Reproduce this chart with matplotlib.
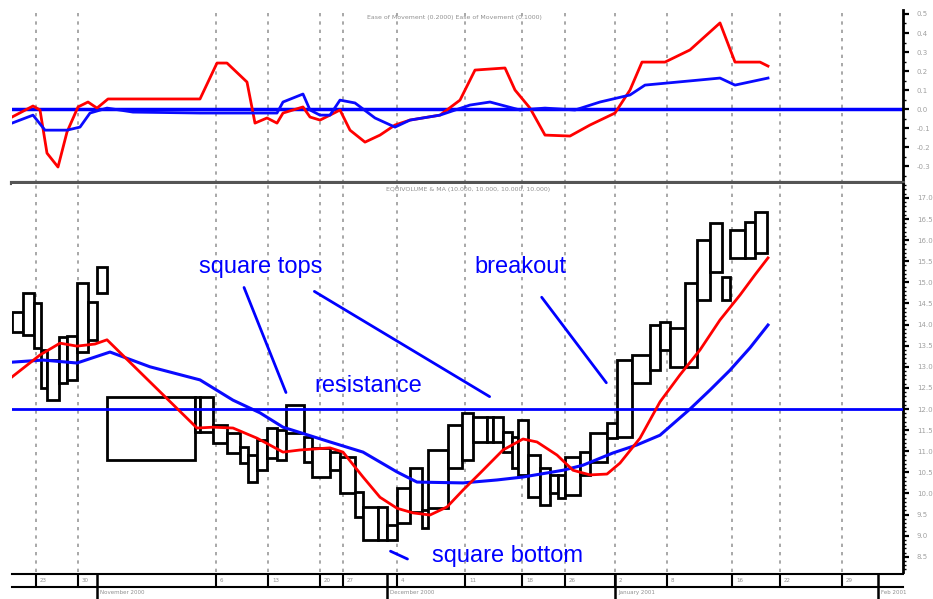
import numpy as np
import matplotlib.pyplot as plt
from matplotlib.ticker import MultipleLocator, FormatStrFormatter

# Equivolume boxes: width = volume, top = high, bottom = low
volume = [11, 11, 7, 6, 12, 8, 10, 11, 9, 10, 88, 5, 13, 14, 13, 8, 9, 10, 10, 9,
          18, 8, 18, 10, 15, 8, 15, 9, 10, 13, 12, 6, 20, 14, 11, 14, 6, 10, 9, 6,
          10, 12, 10, 8, 7, 15, 10, 17, 10, 15, 18, 10, 10, 15, 12, 13, 12, 8, 15, 10, 12]
high = [14.30, 14.75, 14.51, 13.40, 13.16, 13.71, 13.73, 14.99, 14.54, 15.36,
        12.28, 12.28, 12.28, 11.62, 11.43, 11.10, 10.91, 11.27, 11.55, 11.50,
        12.10, 11.34, 11.08, 10.98, 10.86, 10.03, 9.68, 9.68, 9.25, 10.13,
        10.60, 9.61, 11.03, 11.62, 11.90, 11.81, 11.81, 11.81, 11.45, 11.34,
        11.74, 10.91, 10.60, 10.44, 10.44, 10.86, 10.98, 11.43, 11.67, 13.16,
        13.28, 13.99, 14.06, 13.92, 14.99, 16.00, 16.41, 15.13, 16.24, 16.43, 16.67]
low = [13.82, 13.75, 13.45, 12.50, 12.21, 12.62, 12.69, 13.35, 13.64, 14.75,
       10.79, 11.45, 11.45, 11.19, 10.96, 10.72, 10.27, 10.55, 10.84, 10.79,
       11.43, 10.74, 10.39, 10.55, 10.01, 9.44, 8.90, 8.90, 8.90, 9.30,
       9.56, 9.18, 9.65, 10.60, 10.79, 11.22, 11.22, 11.22, 10.98, 10.60,
       10.44, 9.91, 9.72, 10.01, 9.89, 9.96, 10.44, 10.74, 11.31, 11.34,
       12.62, 12.92, 13.40, 13.00, 13.00, 14.58, 15.25, 14.58, 15.58, 15.58, 15.70]

# moving averages (x in cumulative volume)
ma_fast_x = [0, 28, 48, 65, 83, 95, 185, 201, 221, 245, 271, 288, 318, 331, 351, 368, 385,
             401, 418, 435, 451, 468, 491, 511, 525, 545, 561, 578, 595, 608, 628, 648,
             668, 688, 708, 728, 743, 756]
ma_fast = [12.76, 13.28, 13.56, 13.49, 13.54, 13.64, 11.55, 11.57, 11.55, 11.31, 10.98,
           11.03, 11.08, 10.98, 10.39, 9.91, 9.65, 9.54, 9.49, 9.68, 10.08, 10.48, 11.03,
           11.29, 11.22, 10.91, 10.55, 10.44, 10.46, 10.72, 11.31, 12.17, 12.81, 13.40,
           14.11, 14.70, 15.18, 15.58]
ma_slow_x = [0, 31, 65, 98, 138, 188, 221, 248, 271, 318, 351, 385, 405, 451, 485, 511,
             551, 571, 601, 625, 648, 678, 698, 718, 738, 756]
ma_slow = [13.11, 13.16, 13.09, 13.35, 13.00, 12.69, 12.21, 11.91, 11.57, 11.22, 10.98,
           10.51, 10.27, 10.25, 10.32, 10.39, 10.55, 10.67, 10.96, 11.15, 11.38, 12.00,
           12.45, 12.92, 13.45, 13.99]
resistance = 12.0

# Ease of movement indicators
eom_fast_x = [0, 21, 28, 35, 46, 55, 66, 76, 85, 96, 188, 205, 215, 235, 243, 255, 265,
              271, 291, 298, 308, 318, 328, 338, 353, 368, 383, 398, 428, 448, 463, 493,
              503, 518, 533, 558, 578, 603, 618, 630, 653, 678, 708, 723, 748, 756]
eom_fast = [-0.042, 0.016, -0.005, -0.232, -0.305, -0.121, 0.011, 0.037, 0.005, 0.053,
            0.053, 0.242, 0.242, 0.142, -0.074, -0.047, -0.074, -0.021, 0.011, -0.042,
            -0.058, -0.032, -0.005, -0.111, -0.174, -0.137, -0.084, -0.058, -0.032, 0.047,
            0.205, 0.216, 0.100, 0.005, -0.137, -0.142, -0.084, -0.021, 0.100, 0.247,
            0.247, 0.311, 0.453, 0.247, 0.247, 0.226]
eom_slow_x = [0, 21, 33, 55, 68, 78, 95, 121, 188, 238, 265, 271, 291, 298, 308, 318, 328,
              343, 363, 383, 398, 428, 458, 478, 508, 533, 563, 588, 618, 633, 688, 708,
              723, 756]
eom_slow = [-0.074, -0.032, -0.111, -0.111, -0.095, -0.021, 0.005, -0.016, -0.021, -0.021,
            -0.021, 0.037, 0.079, -0.005, -0.032, -0.032, 0.047, 0.032, -0.047, -0.095,
            -0.058, -0.032, 0.021, 0.037, -0.005, 0.005, -0.005, 0.037, 0.074, 0.126,
            0.153, 0.163, 0.126, 0.163]

# date axis
week_pos = [24, 66, 204, 256, 308, 331, 385, 453, 510, 553, 603, 655, 720, 768, 830]
week_lbl = ['23', '30', '6', '13', '20', '27', '4', '11', '18', '26', '2', '8', '16', '22', '29']
month_pos = [85, 375, 603, 866]
month_lbl = ['November 2000', 'December 2000', 'January 2001', 'Feb 2001']

W, H = 933, 599
fig = plt.figure(figsize=(W / 100, H / 100), dpi=100)
left, right = 12 / W, 903 / W
ax1 = fig.add_axes([left, 1 - 183 / H, right - left, 173 / H])
ax2 = fig.add_axes([left, 1 - 572 / H, right - left, 388 / H])
ax3 = fig.add_axes([left, 1 - 587 / H, right - left, 13 / H])

grid_kw = dict(color='#9a9a9a', lw=1.2, ls=(0, (2, 3)), zorder=0)
for ax in (ax1, ax2):
    ax.set_xlim(0, 891)
    for xp in week_pos:
        ax.axvline(xp, **grid_kw)
    ax.yaxis.tick_right()
    ax.set_xticks([])
    ax.spines['left'].set_visible(False)
    ax.spines['right'].set_linewidth(2)
    ax.tick_params(axis='y', which='major', direction='out', length=4, width=1.6,
                   pad=6, labelsize=5, labelcolor='#a0a0a0')
    ax.tick_params(axis='y', which='minor', direction='out', length=2, width=1)

# top panel
ax1.plot(eom_fast_x, eom_fast, color='#ff0000', lw=2, zorder=3)
ax1.plot(eom_slow_x, eom_slow, color='#0a0aff', lw=2, zorder=3)
ax1.axhline(0, color='#0000ff', lw=2.5, zorder=2)
ax1.set_ylim(-0.389, 0.521)
ax1.yaxis.set_major_locator(MultipleLocator(0.1))
ax1.yaxis.set_minor_locator(MultipleLocator(0.05))
ax1.yaxis.set_major_formatter(FormatStrFormatter('%.1f'))
ax1.spines['top'].set_visible(False)
ax1.spines['bottom'].set_linewidth(3)
ax1.spines['bottom'].set_color('#555555')
ax1.text(0.497, 0.955, 'Ease of Movement (0.2000) Ease of Movement (0.1000)',
         transform=ax1.transAxes, ha='center', va='center', fontsize=4.5, color='#909090')

# bottom panel
lefts = np.concatenate([[0], np.cumsum(volume)[:-1]])
heights = np.array(high) - np.array(low)
ax2.bar(lefts, heights, width=volume, bottom=low, align='edge',
        facecolor='white', edgecolor='black', linewidth=2, zorder=2)
ax2.plot(ma_slow_x, ma_slow, color='#0a0aff', lw=2.2, zorder=3)
ax2.plot(ma_fast_x, ma_fast, color='#ff0000', lw=2, zorder=4)
ax2.axhline(resistance, color='#0000ff', lw=2, zorder=3)
ax2.set_ylim(8.14, 17.33)
ax2.yaxis.set_major_locator(MultipleLocator(0.5))
ax2.yaxis.set_minor_locator(MultipleLocator(0.1))
ax2.yaxis.set_major_formatter(FormatStrFormatter('%.1f'))
ax2.spines['top'].set_visible(False)
ax2.spines['bottom'].set_visible(False)
ax2.text(0.512, 0.985, 'EQUIVOLUME & MA (10.000, 10.000, 10.000, 10.000)',
         transform=ax2.transAxes, ha='center', va='center', fontsize=4.5, color='#909090')

txt_kw = dict(color='#0000ff', fontsize=17, family='Liberation Sans', ha='center', va='center')
ln_kw = dict(arrowprops=dict(arrowstyle='-', color='#0000ff', lw=2))
ax2.text(249, 15.36, 'square tops', **txt_kw)
ax2.text(508, 15.36, 'breakout', **txt_kw)
ax2.text(356, 12.55, 'resistance', **txt_kw)
ax2.text(495, 8.52, 'square bottom', **txt_kw)
ax2.annotate('', xy=(275, 12.33), xytext=(231, 14.94), **ln_kw)
ax2.annotate('', xy=(480, 12.26), xytext=(300, 14.82), **ln_kw)
ax2.annotate('', xy=(596, 12.57), xytext=(528, 14.70), **ln_kw)
ax2.annotate('', xy=(398, 8.42), xytext=(376, 8.66), **ln_kw)

# date strip
ax3.set_xlim(0, 891)
ax3.set_ylim(0, 1)
ax3.set_xticks([])
ax3.set_yticks([])
for s in ('left', 'right'):
    ax3.spines[s].set_visible(False)
for s in ('top', 'bottom'):
    ax3.spines[s].set_linewidth(1.5)
for xp, lb in zip(week_pos, week_lbl):
    ax3.plot([xp, xp], [0, 1], color='black', lw=1.5)
    ax3.text(xp + 4, 0.5, lb, fontsize=4, color='#909090', va='center')
for xp, lb in zip(month_pos, month_lbl):
    ax3.plot([xp, xp], [-1, 1], color='black', lw=1.8, clip_on=False)
    ax3.text(xp + 3, -0.45, lb, fontsize=4, color='#909090', va='center')

fig.savefig('out.png', dpi=100)
